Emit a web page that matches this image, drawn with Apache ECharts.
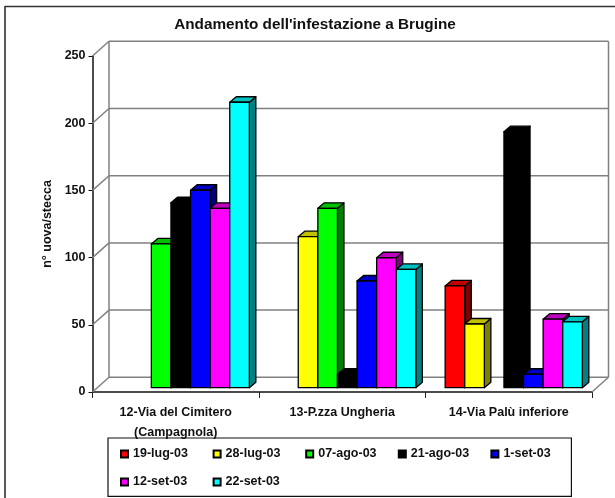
<!DOCTYPE html>
<html>
<head>
<meta charset="utf-8">
<style>html,body{margin:0;padding:0;background:#fff}#c{width:615px;height:498px}</style>
<script src="https://cdn.jsdelivr.net/npm/echarts@6/dist/echarts.min.js"></script>
</head>
<body>
<div id="c"></div>
<script>
const categories = ['12-Via del Cimitero\n(Campagnola)', '13-P.zza Ungheria', '14-Via Palù inferiore'];
const yTicks = [0, 50, 100, 150, 200, 250];
const dates = ['19-lug-03', '28-lug-03', '07-ago-03', '21-ago-03', '1-set-03', '12-set-03', '22-set-03'];
const lug19 = [null, null, 75.7];
const lug28 = [null, 112.4, 47.4];
const ago07 = [107, 133.5, null];
const ago21 = [137.6, 10, 190.5];
const set01 = [146.9, 79.4, 10];
const set12 = [133.5, 96.7, 51];
const set22 = [212.4, 88, 49];
const seriesValues = [lug19, lug28, ago07, ago21, set01, set12, set22];
const faceColors = ['#ff0000', '#ffff00', '#00ff00', '#000000', '#0000ff', '#ff00ff', '#00ffff'];
const topColors = ['#c00000', '#c0c000', '#00c000', '#000000', '#0000c0', '#c000c0', '#00c0c0'];
const sideColors = ['#800000', '#808000', '#008000', '#000000', '#000080', '#800080', '#008080'];

const FONT = '"Liberation Sans", Arial, sans-serif';
const WALL_DX = 16.5, WALL_DY = 14.7;
const BASE_DX = 5, BASE_DY = 4.3;
const DEPTH_DX = 6.5, DEPTH_DY = 5.5;
const BAR_RATIO = 0.1177;

function wallItem(params, api) {
  const v = api.value(0);
  const rect = params.coordSys;
  const left = rect.x, right = rect.x + rect.width;
  const p = api.coord([0, v]);
  const y = p[1];
  const style = { stroke: '#808080', lineWidth: 1.5, fill: null };
  const line = (x1, y1, x2, y2) => ({ type: 'line', shape: { x1, y1, x2, y2 }, style, silent: true });
  const children = [
    line(left, y, left + WALL_DX, y - WALL_DY),
    line(left + WALL_DX, y - WALL_DY, right + WALL_DX, y - WALL_DY)
  ];
  if (v === 0) {
    children.push(line(right, y, right + WALL_DX, y - WALL_DY));
    children.push(line(right + WALL_DX, y - WALL_DY, right + WALL_DX, rect.y - WALL_DY));
    children.push(line(left + WALL_DX, y - WALL_DY, left + WALL_DX, rect.y - WALL_DY));
  }
  return { type: 'group', children };
}

function barItem(si) {
  return function (params, api) {
    const cat = api.value(0), val = api.value(1);
    const band = api.size([1, 0])[0];
    const w = band * BAR_RATIO;
    const c0 = api.coord([cat, 0]);
    const c1 = api.coord([cat, val]);
    const x0 = c0[0] - 3.5 * w + si * w + BASE_DX;
    const x1 = x0 + w;
    const yB = c0[1] - BASE_DY;
    const yT = c1[1] - BASE_DY;
    const edge = { stroke: '#000', lineWidth: 1.3, lineJoin: 'round' };
    const poly = (points, fill) => ({
      type: 'polygon', shape: { points }, style: Object.assign({ fill }, edge), silent: true
    });
    return {
      type: 'group',
      children: [
        poly([[x1, yB], [x1 + DEPTH_DX, yB - DEPTH_DY], [x1 + DEPTH_DX, yT - DEPTH_DY], [x1, yT]], sideColors[si]),
        poly([[x0, yT], [x0 + DEPTH_DX, yT - DEPTH_DY], [x1 + DEPTH_DX, yT - DEPTH_DY], [x1, yT]], topColors[si]),
        poly([[x0, yB], [x0, yT], [x1, yT], [x1, yB]], faceColors[si])
      ]
    };
  };
}

const series = [{
  name: 'wall', type: 'custom', renderItem: wallItem, silent: true, clip: false, z: 1,
  data: yTicks.map(v => [v]), encode: { y: 0 }
}];
seriesValues.forEach((vals, si) => {
  const data = [];
  vals.forEach((v, i) => { if (v !== null) data.push([i, v]); });
  series.push({
    name: dates[si], type: 'custom', renderItem: barItem(si), clip: false, z: 2 + si,
    data, encode: { x: 0, y: 1 },
    itemStyle: { color: faceColors[si], borderColor: '#000', borderWidth: 1.2 }
  });
});

const chart = echarts.init(document.getElementById('c'), null, { renderer: 'canvas' });
chart.setOption({
  animation: false,
  backgroundColor: '#fff',
  textStyle: { fontFamily: FONT },
  title: {
    text: "Andamento dell'infestazione a Brugine",
    left: 310, top: 12, textAlign: 'center',
    textStyle: { fontFamily: FONT, fontSize: 15.3, fontWeight: 'bold', color: '#111' }
  },
  grid: { left: 92.5, right: 23, top: 56, bottom: 106, containLabel: false },
  xAxis: {
    type: 'category', data: categories,
    axisLine: { lineStyle: { color: '#111', width: 1.5 } },
    axisTick: { show: true, length: 6, lineStyle: { color: '#222', width: 1 } },
    axisLabel: { interval: 0, margin: 11, fontFamily: FONT, fontSize: 12.5, fontWeight: 'bold', color: '#111', lineHeight: 20 },
    splitLine: { show: false }
  },
  yAxis: {
    type: 'value', min: 0, max: 250, interval: 50,
    name: 'n° uova/stecca', nameLocation: 'middle', nameGap: 38,
    nameTextStyle: { fontFamily: FONT, fontSize: 12.5, fontWeight: 'bold', color: '#111' },
    axisLine: { show: true, lineStyle: { color: '#111', width: 1.5 } },
    axisTick: { show: true, length: 4, lineStyle: { color: '#111', width: 1 } },
    axisLabel: { margin: 7, padding: [3, 0, 0, 0], fontFamily: FONT, fontSize: 12.5, fontWeight: 'bold', color: '#111' },
    splitLine: { show: false }
  },
  legend: {
    data: dates, left: 108, top: 438, orient: 'horizontal', width: 460,
    icon: 'rect', itemWidth: 7, itemHeight: 7, itemGap: 14,
    padding: [9, 2.4, 7.4, 12],
    borderColor: '#111', borderWidth: 1.2, borderRadius: 0,
    selectedMode: false,
    formatter: '{t|{name}}',
    textStyle: {
      fontFamily: FONT, fontSize: 12.5, fontWeight: 'bold', color: '#111',
      rich: { t: { width: 65.6, height: 14, align: 'left', backgroundColor: '#ffffff', fontFamily: FONT, fontSize: 12.5, fontWeight: 'bold', color: '#111' } }
    }
  },
  graphic: [
    { type: 'line', silent: true, shape: { x1: 5, y1: 6.5, x2: 615, y2: 6.5 }, style: { stroke: '#333', lineWidth: 1.6 } },
    { type: 'line', silent: true, shape: { x1: 5, y1: 6, x2: 5, y2: 498 }, style: { stroke: '#333', lineWidth: 1.6 } }
  ],
  series
});
</script>
</body>
</html>
